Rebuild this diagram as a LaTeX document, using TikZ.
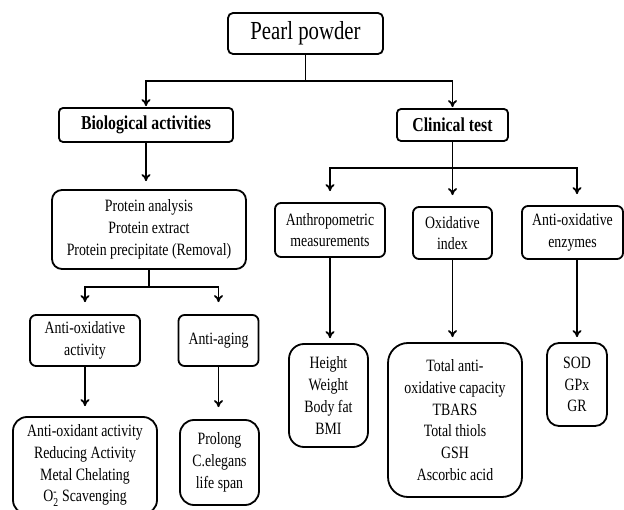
\documentclass[tikz,border=0pt]{standalone}
\usepackage{amsmath}
\usepackage{fontspec}
\setmainfont{Liberation Serif}[FakeStretch=0.8]
\usetikzlibrary{arrows,arrows.meta}

\begin{document}
\begin{tikzpicture}[x=1pt,y=-1pt,
box/.style={draw,rounded corners=6pt,line width=1.8pt,align=center,inner sep=0pt,font=\fontsize{17.3}{21.7}\selectfont},
head/.style={box,rounded corners=4pt,font=\fontsize{19.7}{23}\selectfont\bfseries},
link/.style={line width=1.8pt},
arrow/.style={-{To[length=7pt,width=9pt]},line width=1.8pt} ]

\useasboundingbox (0,0) rectangle (624,510);

\node[box,rounded corners=5pt,minimum width=155pt,minimum height=41pt,font=\fontsize{26}{30}\selectfont](pearl) at (305.5,33.5) {Pearl powder};

\node[head,minimum width=174pt,minimum height=34pt](bio) at (146,125) {Biological activities};

\node[head,minimum width=111pt,minimum height=32pt](clin) at (452.5,125) {Clinical test};

\node[box,rounded corners=10pt,minimum width=194pt,minimum height=79pt](prot) at (149,229.5) {Protein analysis\\Protein extract\\Protein precipitate (Removal)};

\node[box,minimum width=110pt,minimum height=51pt](antiox) at (85,340.5) {Anti-oxidative\\activity};

\node[box,minimum width=80pt,minimum height=51pt](aging) at (218.5,340.5) {Anti-aging};

\node[box,minimum width=110pt,minimum height=54pt](anthro) at (330,230) {Anthropometric\\measurements};

\node[box,minimum width=79pt,minimum height=52pt](oxid) at (452.5,233) {Oxidative\\index};

\node[box,minimum width=101pt,minimum height=53pt](enz) at (572.5,232.5) {Anti-oxidative\\enzymes};

\node[box,rounded corners=14pt,minimum width=144pt,minimum height=97pt](aolist) at (85,465.5) {Anti-oxidant activity\\Reducing Activity\\Metal Chelating\\O$_{\text{2}}^{\text{-}}$ Scavenging};

\node[box,rounded corners=14pt,minimum width=79pt,minimum height=85pt](prolong) at (219.5,462.5) {Prolong\\C.elegans\\life span};

\node[box,rounded corners=15pt,minimum width=79pt,minimum height=103pt](height) at (328.5,395.5) {Height\\Weight\\Body fat\\BMI};

\node[box,rounded corners=20pt,minimum width=134pt,minimum height=154pt](tac) at (455,420) {Total anti-\\oxidative capacity\\TBARS\\Total thiols\\GSH\\Ascorbic acid};

\node[box,rounded corners=12pt,minimum width=60pt,minimum height=83pt](sod) at (577,384.5) {SOD\\GPx\\GR};

% junctions
\coordinate (j1) at (305.5,81);
\coordinate (j2) at (149,287);
\coordinate (j3) at (452.5,168);

\draw[link] (pearl) -- (j1);
\draw[arrow,shorten >=1pt] (j1) -| (bio);
\draw[arrow,shorten >=1pt] (j1) -| (clin);

\draw[arrow,shorten >=8pt] (bio) -- (bio |- prot.north);

\draw[link] (prot) -- (j2);
\draw[arrow,shorten >=12pt] (j2) -| (antiox);
\draw[arrow,shorten >=12pt] (j2) -| (aging);

\draw[link] (clin) -- (j3);
\draw[arrow,shorten >=11pt] (j3) -| (anthro);
\draw[arrow,shorten >=11pt] (j3) -| (oxid);
\draw[arrow,shorten >=11pt] (j3) -| ([xshift=4.5pt]enz.north);

\draw[arrow,shorten >=10pt] (antiox) -- (aolist);
\draw[arrow,shorten >=12pt] (aging) -- (aging |- prolong.north);

\draw[arrow,shorten >=5pt] (anthro) -- (anthro |- height.north);
\draw[arrow,shorten >=5pt] (oxid) -- (oxid |- tac.north);
\draw[arrow,shorten >=5pt] (sod |- enz.south) -- (sod);

\end{tikzpicture}
\end{document}
